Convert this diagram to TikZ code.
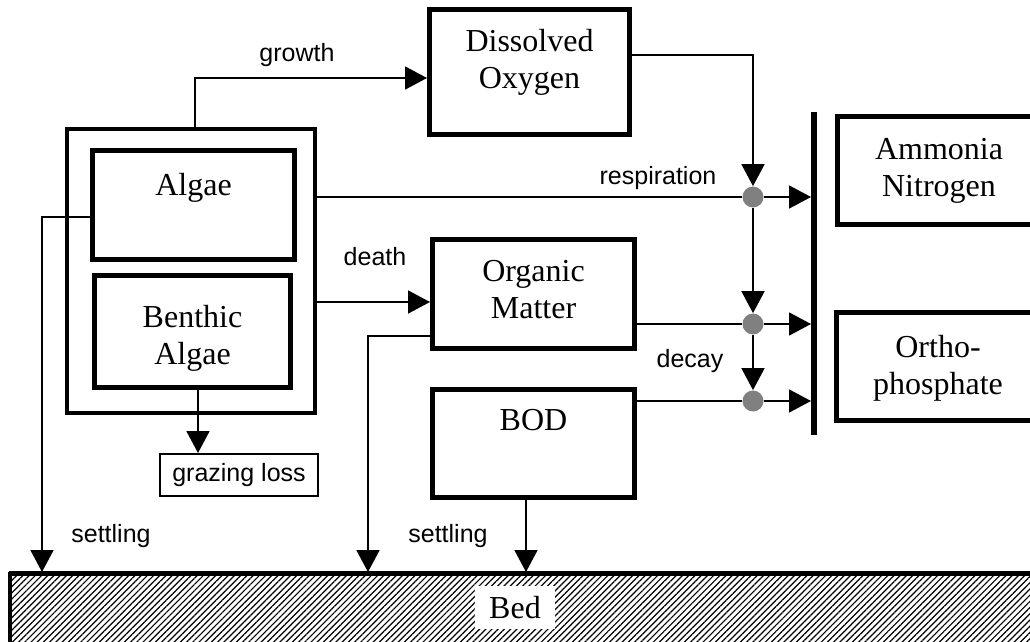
\documentclass[tikz,border=0pt]{standalone}
\usepackage{fontspec}
\setmainfont{Liberation Serif}
\setsansfont{Liberation Sans}
\usetikzlibrary{arrows.meta,patterns.meta}

\begin{document}
\begin{tikzpicture}[x=0.5pt,y=-0.5pt,
    box/.style={draw, line width=2.5pt, rectangle, inner sep=0pt},
    boxtext/.style={font=\fontsize{16}{18.5}\selectfont, align=center, inner sep=0pt},
    lbl/.style={font=\sffamily\fontsize{12.5}{15}\selectfont, inner sep=0pt},
    conn/.style={line width=0.9pt},
    flow/.style={conn, -{Triangle[length=11pt,width=11.5pt]}},
    junction/.style={circle, fill=gray, draw=none, minimum size=10.5pt, inner sep=0pt}]
\useasboundingbox (0,0) rectangle (1030,642);

% Algae group
\node[box, line width=2pt, minimum width=124pt, minimum height=142pt] (group) at (191,271) {};
\node[box, minimum width=101pt, minimum height=54.5pt,
      label={[boxtext,yshift=8.5pt]center:Algae}] (algae) at (193.5,205) {};
\node[box, minimum width=98pt, minimum height=56pt,
      label={[boxtext,yshift=-3.5pt]center:Benthic\\Algae}] (benthic) at (192.5,331.5) {};
\node[draw, line width=1pt, minimum width=79pt, minimum height=21pt, lbl] (grazing) at (239,475) {grazing loss};

% Middle column
\node[box, minimum width=100pt, minimum height=62.5pt,
      label={[boxtext,yshift=5pt]center:Dissolved\\Oxygen}] (oxygen) at (529.5,72) {};
\node[box, minimum width=101pt, minimum height=54.5pt,
      label={[boxtext,yshift=2pt]center:Organic\\Matter}] (matter) at (533.5,294) {};
\node[box, minimum width=101pt, minimum height=54pt,
      label={[boxtext,yshift=11.5pt]center:BOD}] (bod) at (533.5,443.5) {};

% Nutrients
\node[box, minimum width=101.5pt, minimum height=54pt,
      label={[boxtext]center:Ammonia\\Nitrogen}] (ammonia) at (939,170.5) {};
\node[box, minimum width=101.5pt, minimum height=54pt,
      label={[boxtext,yshift=-1pt]center:Ortho-\\phosphate}] (ortho) at (938,366.5) {};
\coordinate (barN) at (814,112);
\coordinate (barS) at (814,435);
\draw[line width=3pt] (barN) -- (barS);

% Bed
\node[draw, line width=2pt, minimum width=515pt, minimum height=35.5pt, inner sep=0pt,
      pattern={Lines[angle=45,distance=2.2pt,line width=0.6pt]},
      label={[boxtext, fill=white, inner xsep=7pt, inner ysep=5pt, xshift=-5pt, yshift=1pt]center:Bed}] (bed) at (525,609.5) {};
\draw[line width=2.5pt] (bed.north west) -- (bed.north east);
\coordinate (set1) at (42,572);
\coordinate (set2) at (368,572);
\coordinate (set3) at (526,572);

% Junctions
\node[junction] (j1) at (753,197) {};
\node[junction] (j2) at (753,324) {};
\node[junction] (j3) at (753,401) {};

% growth
\draw[flow] ([xshift=2pt]group.north) |- ([yshift=-3pt]oxygen.west);
\node[lbl] (growth) at (297,55) {growth};

% respiration
\draw[conn] ([yshift=37pt]group.east) -- (j1);
\draw[flow] ([yshift=8.5pt]oxygen.east) -| (j1);
\node[lbl] (resp) at (658,178) {respiration};

% death and decay
\draw[flow] ([yshift=-15.5pt]group.east) -- ([yshift=-4pt]matter.west);
\node[lbl] (death) at (375,257) {death};
\draw[conn] ([yshift=-15pt]matter.east) -- (j2);
\draw[conn] ([yshift=21.25pt]bod.east) -- (j3);
\draw[flow] (j1) -- (j2);
\draw[flow] (j2) -- (j3);
\node[lbl] (decay) at (690,361) {decay};
\foreach \j in {j1,j2,j3}
  \draw[flow, shorten >=1.5pt] (\j) -- (\j -| barN);

% grazing
\draw[flow] ([xshift=2.75pt]benthic.south) -- ([xshift=-20.5pt]grazing.north);

% settling
\draw[flow] ([yshift=-6pt]algae.west) -| (set1);
\draw[flow] ([yshift=-21pt]matter.west) -| (set2);
\draw[flow] ([xshift=-3.75pt]bod.south) -- (set3);
\node[lbl] (settle1) at (111,536) {settling};
\node[lbl] (settle2) at (448,536) {settling};
\end{tikzpicture}
\end{document}
